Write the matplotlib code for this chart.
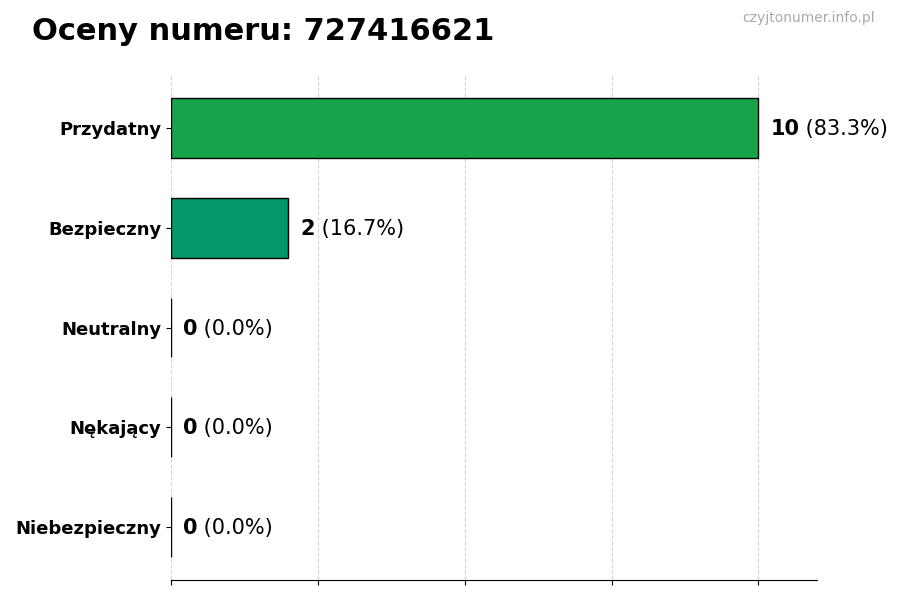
import matplotlib
matplotlib.use("Agg")
import matplotlib.pyplot as plt

categories = ["Przydatny", "Bezpieczny", "Neutralny", "Nękający", "Niebezpieczny"]
values = [10, 2, 0, 0, 0]
colors = ["#16a34a", "#059669", "#9ca3af", "#f97316", "#dc2626"]
title = "Oceny numeru: 727416621"
watermark = "czyjtonumer.info.pl"

total = sum(values)
fig = plt.figure(figsize=(9, 6), dpi=100)
ax = fig.add_axes([0.19, 0.0333, 0.718, 0.8417])

ypos = list(range(len(categories)))
ax.barh(ypos, values, height=0.6, color=colors, edgecolor="black", linewidth=1, zorder=2)
ax.set_yticks(ypos)
ax.set_yticklabels(categories, fontsize=13, fontweight="bold")
ax.invert_yaxis()
ax.set_xlim(0, max(values) * 1.1)
ax.set_xticks([0, 2.5, 5, 7.5, 10])
ax.set_xticklabels([])
ax.grid(axis="x", linestyle="--", color="#cccccc", alpha=0.8, zorder=0)
ax.set_axisbelow(True)
for s in ["top", "right", "left"]:
    ax.spines[s].set_visible(False)

for y, v in zip(ypos, values):
    pct = v / total * 100 if total else 0
    t = ax.text(v + 0.2, y + 0.01, f"{v}", fontsize=15, fontweight="bold", va="center", ha="left")
    ax.annotate(f" ({pct:.1f}%)", xy=(1, 0.5), xycoords=t, va="center", ha="left", fontsize=15)

fig.text(32 / 900, 1 - 31.5 / 600, title, fontsize=22, fontweight="bold", va="center", ha="left")
fig.text(875 / 900, 1 - 18 / 600, watermark, fontsize=10, color="#aaaaaa", va="center", ha="right")

fig.savefig("out.png", dpi=100)
